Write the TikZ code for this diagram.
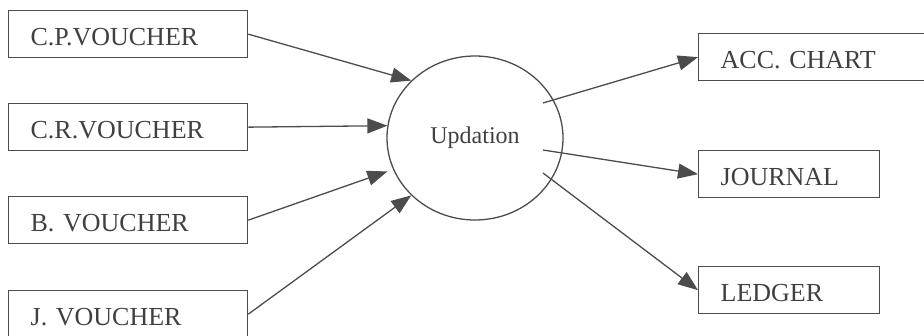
\documentclass[tikz,border=0pt]{standalone}
\usepackage{fontspec}
\setmainfont{Liberation Serif}
\usepackage{tikz}
\usetikzlibrary{arrows.meta,shapes.geometric}

\begin{document}
\begin{tikzpicture}[x=1pt, y=-1pt,
	line width=1.3pt, draw=black!70, text=black!75,
	font=\fontsize{26}{30}\selectfont,
	docbox/.style={draw, anchor=north west, align=left, inner xsep=22pt,
		text height=23pt, text depth=0pt, minimum height=47pt},
	flow/.style={-{Triangle[length=20pt,width=15pt]}, draw=black!70}]
	% Frame
	\useasboundingbox (0,0) rectangle (924,335);
	\clip (0,0) rectangle (924,335);

	% Vouchers
	\node (cp) [docbox, text width=195pt] at (8,10) {C.P.VOUCHER};
	\node (cr) [docbox, text width=195pt] at (8,103) {C.R.VOUCHER};
	\node (bv) [docbox, text width=195pt] at (8,196) {B. VOUCHER};
	\node (jv) [docbox, text width=195pt] at (8,290) {J. VOUCHER};

	% Process
	\node (upd) [draw, ellipse, inner sep=0pt, minimum width=176pt,
		minimum height=164pt, font=\fontsize{24}{28}\selectfont]
		at (475,138) {Updation};

	% Outputs
	\node (acc) [docbox, text width=206pt] at (698,33) {ACC. CHART};
	\node (jrn) [docbox, text width=137pt] at (698,150) {JOURNAL};
	\node (led) [docbox, text width=137pt] at (698,266) {LEDGER};

	% Inputs to process
	\draw[flow] (cp.east) -- (upd.138);
	\draw[flow] (cr.east) -- (upd.172);
	\draw[flow, shorten >=6pt] (bv.east) -- (upd.201);
	\draw[flow] (jv.east) -- (upd.222);

	% Process to outputs
	\coordinate (o1) at ([shift={(68,-35)}]upd.center);
	\coordinate (o2) at ([shift={(68,12)}]upd.center);
	\coordinate (o3) at ([shift={(68,35)}]upd.center);
	\draw[flow] (o1) -- (acc.west);
	\draw[flow] (o2) -- (jrn.west);
	\draw[flow] (o3) -- (led.west);
\end{tikzpicture}
\end{document}
